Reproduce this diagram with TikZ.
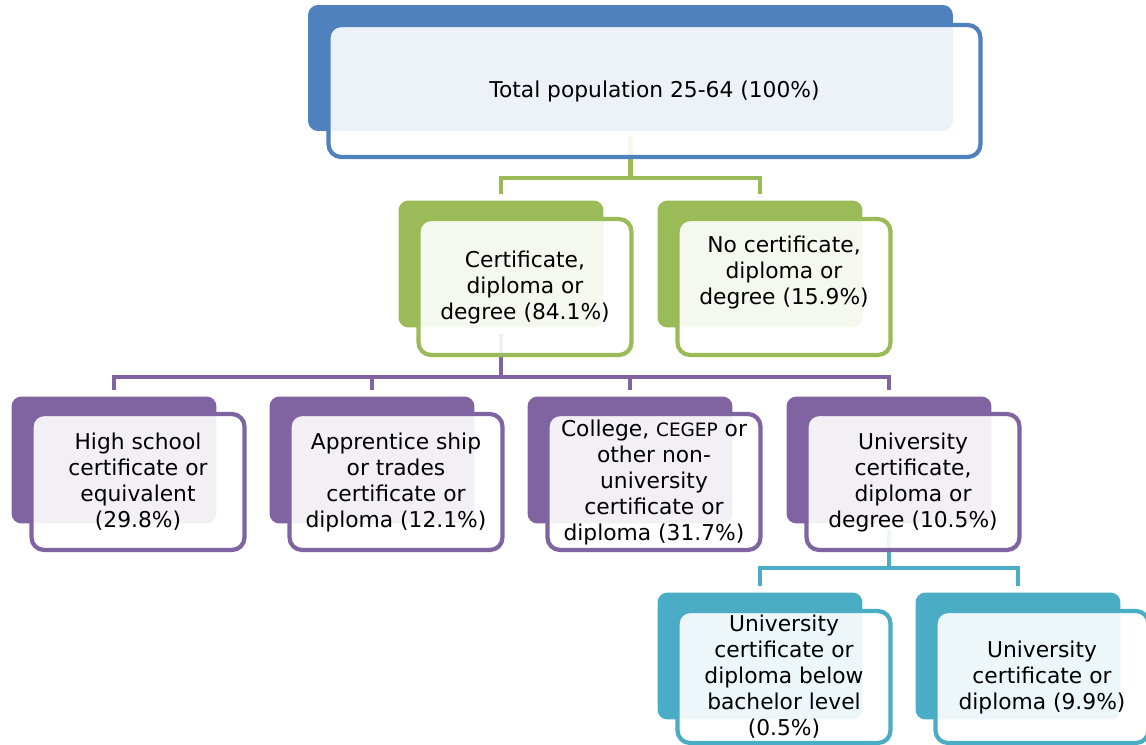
\documentclass[tikz,border=0pt]{standalone}
\usepackage{fontspec}
\setmainfont{DejaVu Sans}

\definecolor{eduBlue}{HTML}{4F81BD}
\definecolor{eduGreen}{HTML}{9BBB59}
\definecolor{eduPurple}{HTML}{8064A2}
\definecolor{eduTeal}{HTML}{4BACC6}

\begin{document}
\begin{tikzpicture}[x=0.02cm, y=-0.02cm,
    back/.style={fill=#1, rounded corners=0.2cm, minimum width=4.1cm, minimum height=2.54cm, inner sep=0pt},
    front/.style={draw=#1, line width=2.4pt, fill=white, fill opacity=0.9, text opacity=1,
        rounded corners=0.25cm, minimum width=4.26cm, minimum height=2.72cm, inner sep=0pt,
        align=center, font=\fontsize{12.4}{14.8}\selectfont},
    link/.style={draw=#1, line width=2.4pt, shorten <=3.5pt, shorten >=3.5pt}]
    \useasboundingbox (0,0) rectangle (1146,744);

    % 底层色块
    \node[back=eduBlue, minimum width=12.9cm, minimum height=2.52cm] (totb) at (630.5,68) {};
    \node[back=eduGreen] (certb) at (501,264) {};
    \node[back=eduGreen] (nocertb) at (760,264) {};
    \node[back=eduPurple] (hsb) at (114,460) {};
    \node[back=eduPurple] (appb) at (372,460) {};
    \node[back=eduPurple] (colb) at (630,460) {};
    \node[back=eduPurple] (unib) at (889,460) {};
    \node[back=eduTeal] (belowb) at (760,656) {};
    \node[back=eduTeal] (bachb) at (1018,656) {};

    % 连线
    \coordinate (gbar) at (0,178);
    \coordinate (pbar) at (0,377);
    \coordinate (tbar) at (0,568);
    \draw[link=eduGreen] (totb.south) |- (gbar -| certb.north) -- (certb.north);
    \draw[link=eduGreen] (totb.south) |- (gbar -| nocertb.north) -- (nocertb.north);
    \draw[link=eduPurple] (certb.south) |- (pbar -| hsb.north) -- (hsb.north);
    \draw[link=eduPurple] (certb.south) |- (pbar -| appb.north) -- (appb.north);
    \draw[link=eduPurple] (certb.south) |- (pbar -| colb.north) -- (colb.north);
    \draw[link=eduPurple] (certb.south) |- (pbar -| unib.north) -- (unib.north);
    \draw[link=eduTeal] (unib.south) |- (tbar -| belowb.north) -- (belowb.north);
    \draw[link=eduTeal] (unib.south) |- (tbar -| bachb.north) -- (bachb.north);

    % 文字框
    \node[front=eduBlue, minimum width=13.04cm, minimum height=2.64cm] (tot) at ([shift={(24,23)}]totb.center)
        {Total population 25-64 (100\%)};
    \node[front=eduGreen] (cert) at ([shift={(24,23)}]certb.center)
        {Certificate,\\diploma or\\degree (84.1\%)};
    \node[front=eduGreen] (nocert) at ([shift={(24,23)}]nocertb.center)
        {No certificate,\\diploma or\\degree (15.9\%)\\ \strut};
    \node[front=eduPurple] (hs) at ([shift={(24,22)}]hsb.center)
        {High school\\certificate or\\equivalent\\(29.8\%)};
    \node[front=eduPurple] (app) at ([shift={(24,22)}]appb.center)
        {Apprentice ship\\or trades\\certificate or\\diploma (12.1\%)};
    \node[front=eduPurple] (col) at ([shift={(24,22)}]colb.center)
        {College, {\fontsize{10.5}{14.8}\selectfont CEGEP} or\\other non-\\university\\certificate or\\diploma (31.7\%)};
    \node[front=eduPurple] (uni) at ([shift={(24,22)}]unib.center)
        {University\\certificate,\\diploma or\\degree (10.5\%)};
    \node[front=eduTeal, minimum height=2.64cm] (below) at ([shift={(24,21)}]belowb.center)
        {University\\certificate or\\diploma below\\bachelor level\\(0.5\%)};
    \node[front=eduTeal, minimum height=2.64cm] (bach) at ([shift={(24,21)}]bachb.center)
        {University\\certificate or\\diploma (9.9\%)};
\end{tikzpicture}
\end{document}
